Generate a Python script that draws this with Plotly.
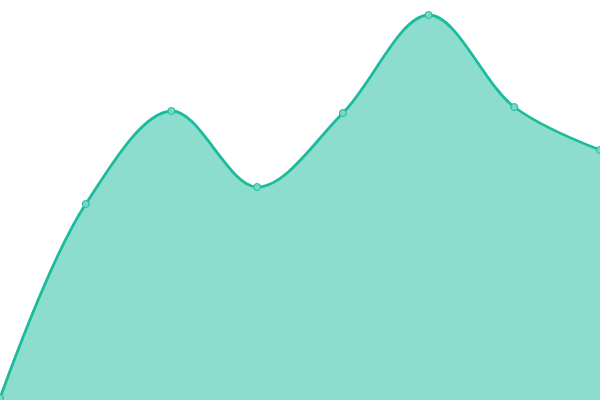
import plotly.graph_objects as go

# point index along x and value (0 = bottom, 400 = top)
steps = [0, 1, 2, 3, 4, 5, 6, 7]
values = [2, 196, 289, 213, 287, 385, 293, 250]

line_color = '#1abc9c'
fill_color = 'rgba(26,188,156,0.5)'

fig = go.Figure()

fig.add_trace(go.Scatter(
    x=steps, y=values,
    mode='lines+markers',
    line=dict(color=line_color, width=2.8, shape='spline', smoothing=1),
    fill='tozeroy', fillcolor=fill_color,
    marker=dict(size=7, color='rgba(120,216,198,1)', line=dict(color=line_color, width=1)),
    cliponaxis=False,
    hoverinfo='x+y',
))

fig.update_layout(
    width=600, height=400,
    margin=dict(l=0, r=0, t=0, b=0),
    paper_bgcolor='white', plot_bgcolor='white',
    showlegend=False,
)
fig.update_xaxes(range=[0, 7], visible=False, fixedrange=True)
fig.update_yaxes(range=[0, 400], visible=False, fixedrange=True)

# drop the page's default body margin so the chart sits at the window edge
fig.write_html("out.html", config={'displayModeBar': False},
               post_script="document.body.style.margin='0';")
